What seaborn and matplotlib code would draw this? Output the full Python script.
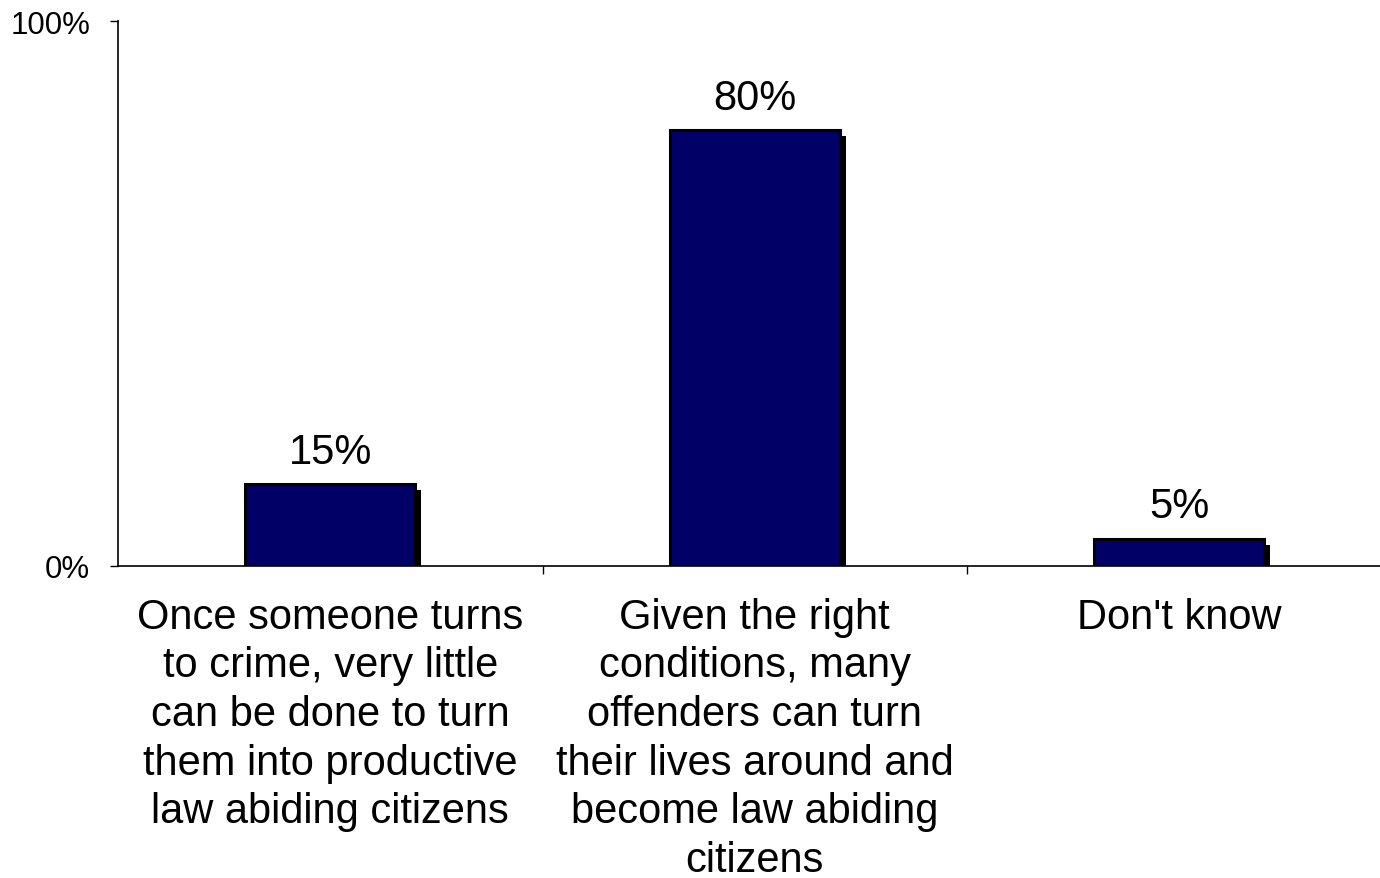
import matplotlib
matplotlib.use("Agg")
import matplotlib.pyplot as plt
import matplotlib.patheffects as pe
import seaborn as sns
import pandas as pd

# chart data
categories = [
    "Once someone turns\nto crime, very little\ncan be done to turn\nthem into productive\nlaw abiding citizens",
    "Given the right\nconditions, many\noffenders can turn\ntheir lives around and\nbecome law abiding\ncitizens",
    "Don't know",
]
values = [15, 80, 5]
y_ticks = [0, 100]
y_tick_labels = ["0%", "100%"]

sns.set_style("white")
plt.rcParams['font.family'] = ['Liberation Sans', 'DejaVu Sans']
plt.rcParams['text.color'] = 'black'
plt.rcParams['xtick.color'] = 'black'
plt.rcParams['ytick.color'] = 'black'

df = pd.DataFrame({"category": categories, "value": values})

fig = plt.figure(figsize=(13.8, 8.79), dpi=100)
ax = fig.add_axes([118 / 1380, 1 - 567 / 879, (1380 - 118) / 1380, (567 - 22) / 879])

sns.barplot(data=df, x="category", y="value", color="#000066", width=0.4,
            saturation=1, edgecolor="black", linewidth=2.2, ax=ax)

# drop shadow like the original office chart
for bar in ax.patches:
    bar.set_path_effects([
        pe.SimplePatchShadow(offset=(4.3, -4.3), shadow_rgbFace="black", alpha=1.0),
        pe.Normal(),
    ])

for bar, v in zip(ax.patches, values):
    ax.annotate(f"{v}%", (bar.get_x() + bar.get_width() / 2, bar.get_height()),
                xytext=(0, 9), textcoords="offset points",
                ha="center", va="bottom", fontsize=30, color="black")

ax.set_ylim(0, 100)
ax.set_xlim(-0.5, -0.5 + (1380 - 118) / 424.5)
ax.set_yticks(y_ticks)
ax.set_yticklabels(y_tick_labels, fontsize=22.5)
ax.set_xticks([0, 1, 2])
ax.set_xticklabels(categories, fontsize=30, linespacing=1.28)
ax.set_xticks([0.5, 1.5], minor=True)
ax.tick_params(axis="x", which="major", length=0, pad=22)
ax.tick_params(axis="x", which="minor", length=6, width=1, direction="out", bottom=True)
ax.tick_params(axis="y", length=6, width=1, direction="out", left=True, pad=14)
ax.set_xlabel("")
ax.set_ylabel("")

for side in ["top", "right"]:
    ax.spines[side].set_visible(False)
for side in ["left", "bottom"]:
    ax.spines[side].set_color("black")
    ax.spines[side].set_linewidth(1.2)

fig.savefig("out.png", dpi=100)
